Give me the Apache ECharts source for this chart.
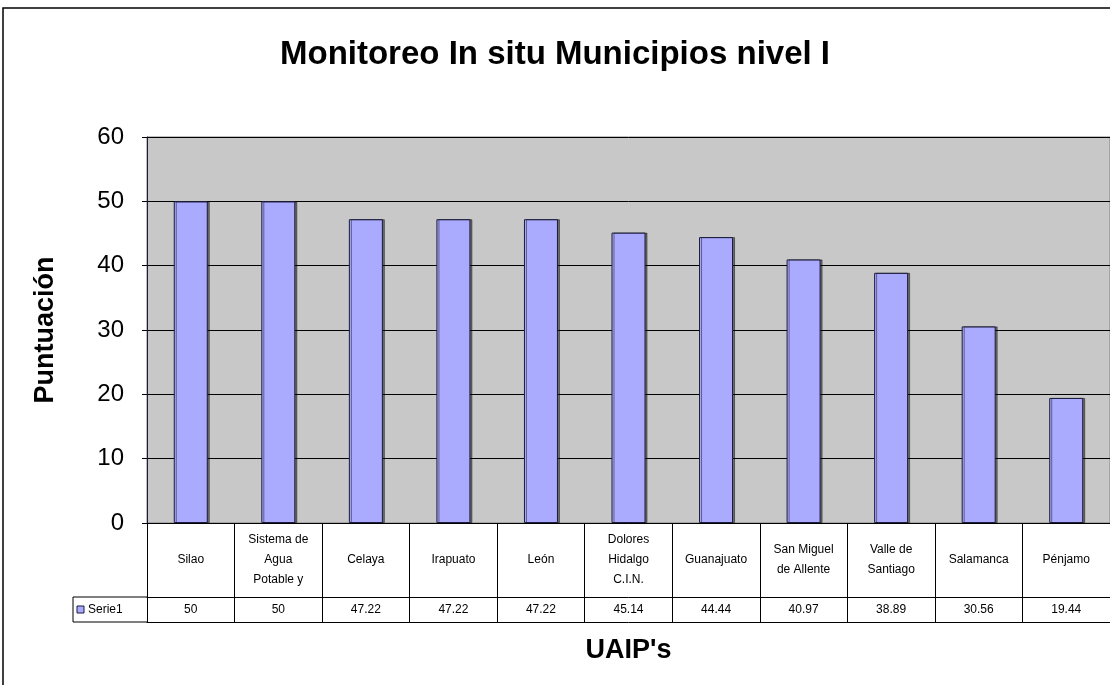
<!DOCTYPE html>
<html>
<head>
<meta charset="utf-8">
<script src="https://cdn.jsdelivr.net/npm/echarts@6/dist/echarts.min.js"></script>
<style>
  html, body { margin: 0; padding: 0; background: #fff; }
  #chart { width: 1110px; height: 685px; }
</style>
</head>
<body>
<div id="chart"></div>
<script>
// data
const categories = ['Silao', 'Sistema de\nAgua\nPotable y', 'Celaya', 'Irapuato', 'León',
  'Dolores\nHidalgo\nC.I.N.', 'Guanajuato', 'San Miguel\nde Allente', 'Valle de\nSantiago',
  'Salamanca', 'Pénjamo']
const serie1 = [50, 50, 47.22, 47.22, 47.22, 45.14, 44.44, 40.97, 38.89, 30.56, 19.44]
const seriesName = 'Serie1'
const yTicks = { min: 0, max: 60, interval: 10 }

const font = '"Liberation Sans", Arial, sans-serif'
const chart = echarts.init(document.getElementById('chart'))

const option = {
  animation: false,
  textStyle: { fontFamily: font },
  title: {
    text: 'Monitoreo In situ Municipios nivel I',
    left: 'center',
    top: 33,
    textStyle: { fontFamily: font, fontSize: 33, fontWeight: 'bold', color: '#000' },
  },
  grid: {
    left: 147,
    right: 0,
    top: 137,
    bottom: 162,
    show: true,
    backgroundColor: '#c8c8c8',
    borderColor: '#808080',
    borderWidth: 1,
  },
  xAxis: [{
    type: 'category',
    data: categories,
    position: 'bottom',
    name: "UAIP's",
    nameLocation: 'middle',
    nameGap: 128,
    nameTextStyle: { fontFamily: font, fontSize: 27, fontWeight: 'bold', color: '#000', verticalAlign: 'middle' },
    axisLine: { lineStyle: { color: '#000', width: 1 } },
    axisTick: { show: true, length: 99, lineStyle: { color: '#000' } },
    axisLabel: {
      interval: 0,
      margin: 37,
      verticalAlign: 'middle',
      lineHeight: 20,
      fontSize: 12,
      color: '#000',
      fontFamily: font,
    },
  }, {
    type: 'category',
    data: categories,
    position: 'bottom',
    offset: 74,
    axisLine: { lineStyle: { color: '#000', width: 1 } },
    axisTick: { show: false },
    axisLabel: {
      interval: 0,
      margin: 13,
      verticalAlign: 'middle',
      fontSize: 12,
      color: '#000',
      fontFamily: font,
      formatter: (v, i) => String(serie1[i]),
    },
  }, {
    type: 'category',
    data: categories,
    position: 'bottom',
    offset: 99,
    axisLine: { lineStyle: { color: '#000', width: 1 } },
    axisTick: { show: false },
    axisLabel: { show: false },
  }],
  yAxis: {
    type: 'value',
    min: yTicks.min,
    max: yTicks.max,
    interval: yTicks.interval,
    name: 'Puntuación',
    nameLocation: 'middle',
    nameGap: 88,
    nameTextStyle: { fontFamily: font, fontSize: 27, fontWeight: 'bold', color: '#000' },
    axisLine: { show: true, lineStyle: { color: '#1a1a3a' } },
    axisTick: { show: true, length: 5, lineStyle: { color: '#000' } },
    axisLabel: { fontSize: 24, color: '#000', margin: 23, fontFamily: font },
    splitLine: { lineStyle: { color: '#000', width: 1 } },
  },
  series: [{
    name: seriesName,
    type: 'bar',
    data: serie1,
    barWidth: 34,
    itemStyle: {
      color: '#aaaaff',
      borderColor: '#1a1a3a',
      borderWidth: 1,
      shadowColor: 'rgba(0,0,0,0.45)',
      shadowOffsetX: 2,
      shadowOffsetY: 0,
      shadowBlur: 0,
    },
  }],
}
chart.setOption(option)

// extra "Serie1" header cell left of the data table + outer chart frame
const gridLeft = 147
const yBase = chart.convertToPixel({ yAxisIndex: 0 }, 0)
const rowTop = yBase + 74
const rowBot = yBase + 99
chart.setOption({
  graphic: [
    { type: 'rect', shape: { x: 3, y: 8, width: 1200, height: 800 }, style: { fill: 'none', stroke: '#000', lineWidth: 1.5 }, silent: true },
    { type: 'line', shape: { x1: 73, y1: rowTop, x2: gridLeft, y2: rowTop }, style: { stroke: '#000', lineWidth: 1 } },
    { type: 'line', shape: { x1: 73, y1: rowBot, x2: gridLeft, y2: rowBot }, style: { stroke: '#000', lineWidth: 1 } },
    { type: 'line', shape: { x1: 73, y1: rowTop, x2: 73, y2: rowBot }, style: { stroke: '#000', lineWidth: 1 } },
    { type: 'rect', shape: { x: 77, y: (rowTop + rowBot) / 2 - 3.5, width: 7, height: 7 }, style: { fill: '#aaaaff', stroke: '#1a1a3a', lineWidth: 1 } },
    { type: 'text', x: 88, y: (rowTop + rowBot) / 2, style: { text: seriesName, font: '12px ' + font, fill: '#000', verticalAlign: 'middle' } },
  ],
})
</script>
</body>
</html>
